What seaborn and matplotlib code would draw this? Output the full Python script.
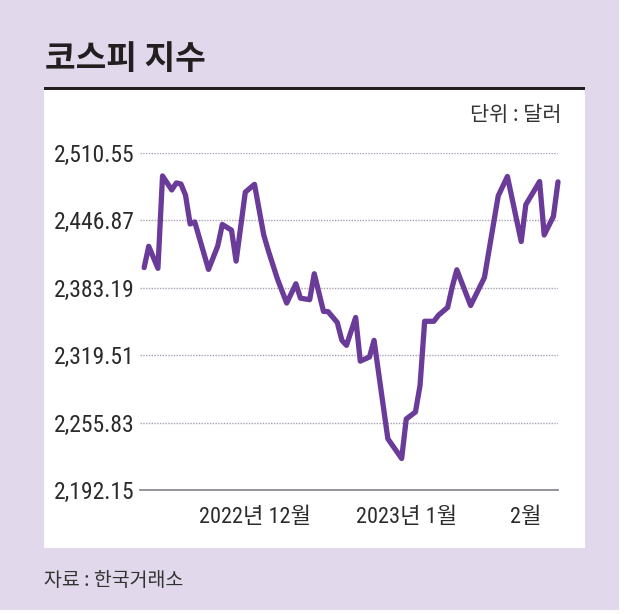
import matplotlib
matplotlib.use("Agg")
import matplotlib.pyplot as plt
from matplotlib.patches import Rectangle
from matplotlib import font_manager
import seaborn as sns
import pandas as pd

# ---- data ----
day_index = [0, 1, 3, 4, 6, 7, 8, 9, 10, 11, 14, 16, 17, 19, 20, 22, 24, 26, 27, 29,
             31, 33, 34, 36, 37, 39, 40, 42, 43, 44, 46, 47, 49, 50, 53, 56, 57, 59, 60,
             61, 63, 64, 66, 67, 68, 71, 74, 77, 79, 82, 83, 86, 87, 89, 90]
kospi = [2402.1, 2422.2, 2401.4, 2488.6, 2475.4, 2482.0, 2481.0, 2470.5, 2443.3, 2445.2,
         2400.4, 2422.4, 2442.8, 2437.4, 2408.2, 2473.3, 2480.7, 2433.1, 2418.2, 2391.2,
         2368.6, 2386.8, 2373.2, 2371.8, 2396.3, 2360.8, 2360.5, 2350.3, 2333.5, 2328.7,
         2355.0, 2313.8, 2317.7, 2333.4, 2240.5, 2221.9, 2259.2, 2265.8, 2290.8,
         2351.4, 2351.4, 2357.1, 2364.5, 2383.9, 2400.0, 2366.3, 2392.7, 2469.8, 2488.1,
         2426.7, 2461.5, 2483.3, 2432.9, 2450.4, 2483.0]
y_ticks = [2192.15, 2255.83, 2319.51, 2383.19, 2446.87, 2510.55]
x_tick_pos = [24, 57, 83]
x_tick_labels = ["2022년 12월", "2023년 1월", "2월"]

title = "코스피 지수"
unit_text = "단위 : 달러"
source_text = "자료 : 한국거래소"

# ---- style ----
W, H = 630, 614
sns.set_theme(style="white")
KR = ["Noto Sans CJK KR", "DejaVu Sans"]

installed = {f.name for f in font_manager.fontManager.ttflist}
narrow = [n for n in ["Liberation Sans Narrow", "Roboto Condensed",
                      "DejaVu Sans Condensed", "Open Sans Condensed"] if n in installed]
NUM = narrow[:1] + ["Noto Sans CJK KR", "DejaVu Sans"]
plt.rcParams["font.family"] = KR

LAV = "#e1d9eb"
INK = "#231f20"
LINE = "#6a3b98"


def fx(px):
    return px / W


def fy(py):
    return 1 - py / H


fig = plt.figure(figsize=(W / 100, H / 100), dpi=100)
fig.patch.set_facecolor("white")

fig.add_artist(Rectangle((0, fy(610)), fx(619), 610 / H, transform=fig.transFigure,
                         facecolor=LAV, edgecolor="none", zorder=0))
fig.add_artist(Rectangle((fx(44), fy(548)), fx(585 - 44), (548 - 90) / H,
                         transform=fig.transFigure, facecolor="white",
                         edgecolor="none", zorder=0))
fig.add_artist(Rectangle((fx(44), fy(89.5)), fx(585 - 44), 3 / H,
                         transform=fig.transFigure, facecolor=INK,
                         edgecolor="none", zorder=1))

fig.text(fx(45), fy(60), title, fontsize=24, fontweight="black", color=INK,
         family=KR, ha="left", va="center")
fig.text(fx(561), fy(115), unit_text, fontsize=15, color="#333333",
         family=KR, ha="right", va="center")
fig.text(fx(44), fy(581), source_text, fontsize=14, color="#333333",
         family=KR, ha="left", va="center")

ax_left, ax_right, ax_top, ax_bottom = 140, 558, 152.7, 490
ax = fig.add_axes([fx(ax_left), fy(ax_bottom), fx(ax_right - ax_left),
                   (ax_bottom - ax_top) / H])
ax.set_facecolor("none")

df = pd.DataFrame({"day": day_index, "kospi": kospi})
sns.lineplot(data=df, x="day", y="kospi", color=LINE, linewidth=3.8, ax=ax,
             clip_on=False, zorder=5)

ax.set_xlim(-0.9, 90.0)
ax.set_ylim(y_ticks[0], y_ticks[-1])
ax.set_yticks(y_ticks)
ax.set_yticklabels([f"{v:,.2f}" for v in y_ticks])
ax.set_xticks(x_tick_pos)
ax.set_xticklabels(x_tick_labels)
ax.set_xlabel("")
ax.set_ylabel("")

ysize = 17 if narrow else 14
for lab in ax.get_yticklabels():
    lab.set_family(NUM)
    lab.set_fontsize(ysize)
    lab.set_color("#2b2b2b")
for lab in ax.get_xticklabels():
    lab.set_family(NUM)
    lab.set_fontsize(16 if narrow else 14.5)
    lab.set_color("#2b2b2b")

ax.tick_params(axis="y", length=0, pad=4)
ax.tick_params(axis="x", length=0, pad=12)

ax.yaxis.grid(True, linestyle=(0, (1, 1)), color="#aaa2b4", linewidth=1.0)
ax.xaxis.grid(False)
for s in ["top", "right", "left"]:
    ax.spines[s].set_visible(False)
ax.spines["bottom"].set_color("#8e8a92")
ax.spines["bottom"].set_linewidth(1.3)
ax.set_axisbelow(True)

fig.savefig("out.png", dpi=100, facecolor=fig.get_facecolor())
